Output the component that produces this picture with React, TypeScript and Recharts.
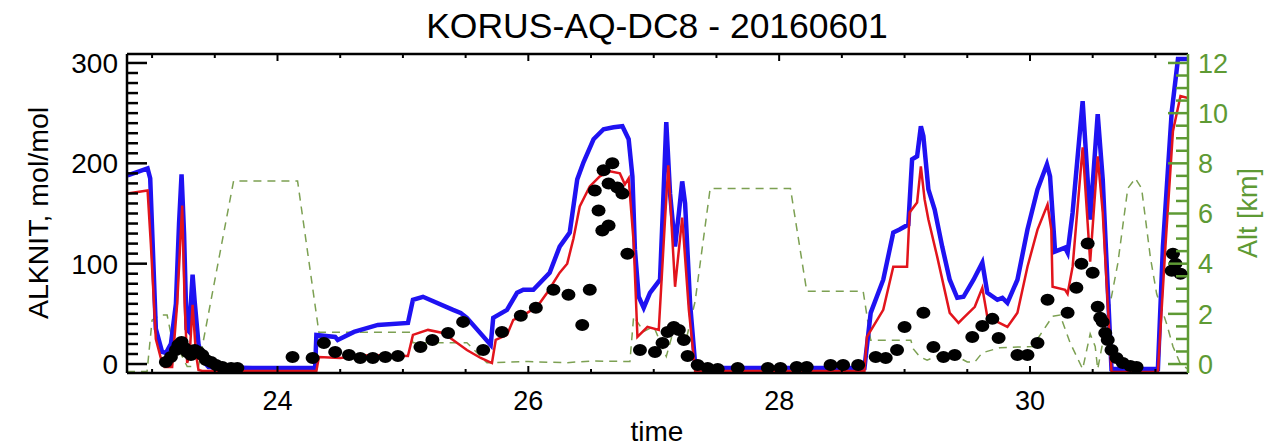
import { ComposedChart, Line, Scatter, XAxis, YAxis } from "recharts"

const FONT = '"Liberation Sans", Arial, Helvetica, sans-serif'
const GREEN = "#5e9a34"

// model ALKNIT, mol/mol (blue)
const modelBlue: [number, number][] = [
  [22.805, 188], [22.964, 195], [22.985, 185], [23.03, 35], [23.08, 12], [23.11, 11], [23.15, 20],
  [23.19, 60], [23.215, 140], [23.235, 189], [23.255, 130], [23.275, 35], [23.29, 33], [23.31, 62],
  [23.323, 89], [23.34, 62], [23.37, 20], [23.4, 4], [23.45, -3], [23.8, -4], [24.3, -4], [24.31, 29],
  [24.46, 27], [24.48, 24], [24.61, 32], [24.8, 39], [25.04, 41], [25.08, 64], [25.16, 67], [25.4, 54],
  [25.46, 51], [25.51, 46], [25.7, 19], [25.72, 46], [25.83, 54], [25.91, 71], [25.96, 74], [26.04, 74],
  [26.17, 91], [26.25, 117], [26.33, 131], [26.39, 184], [26.44, 201], [26.52, 224], [26.6, 234],
  [26.68, 236], [26.75, 237], [26.8, 224], [26.83, 187], [26.85, 114], [26.88, 67], [26.92, 56],
  [26.97, 71], [27.05, 84], [27.075, 160], [27.1, 241], [27.13, 170], [27.17, 117], [27.2, 150],
  [27.227, 182], [27.25, 160], [27.29, 60], [27.33, 0], [27.35, -4], [28.68, -4], [28.73, 51],
  [28.83, 84], [28.91, 131], [28.96, 134], [29.03, 139], [29.06, 204], [29.1, 207], [29.13, 237],
  [29.15, 227], [29.19, 174], [29.24, 154], [29.3, 117], [29.36, 84], [29.42, 66], [29.47, 67],
  [29.55, 84], [29.62, 101], [29.66, 71], [29.74, 64], [29.78, 66], [29.82, 61], [29.9, 84],
  [29.98, 134], [30.06, 174], [30.135, 199], [30.16, 187], [30.2, 112], [30.28, 116], [30.3, 111],
  [30.34, 151], [30.42, 262], [30.48, 144], [30.54, 249], [30.58, 184], [30.65, -5], [31.02, -5],
  [31.06, 117], [31.13, 251], [31.18, 304], [31.26, 304],
]

// model ALKNIT, mol/mol (red)
const modelRed: [number, number][] = [
  [22.805, 170], [22.964, 173], [22.99, 120], [23.03, 25], [23.08, 1], [23.1, -3], [23.16, -3],
  [23.2, 60], [23.24, 158], [23.26, 60], [23.28, 1], [23.3, 10], [23.323, 59], [23.35, 10],
  [23.37, -6], [23.4, -7], [24.31, -7], [24.33, 7], [24.5, 6], [24.74, 9], [25.04, 8], [25.08, 29],
  [25.2, 34], [25.32, 31], [25.4, 24], [25.51, 14], [25.62, 6], [25.71, 1], [25.74, 24], [25.83, 29],
  [25.88, 44], [25.94, 47], [25.99, 51], [26.07, 57], [26.15, 71], [26.25, 91], [26.31, 100],
  [26.36, 125], [26.41, 157], [26.49, 177], [26.57, 187], [26.65, 192], [26.73, 190], [26.77, 179],
  [26.8, 185], [26.84, 121], [26.87, 27], [26.95, 37], [27.04, 34], [27.09, 144], [27.116, 198],
  [27.17, 77], [27.227, 146], [27.28, 54], [27.33, -7], [28.68, -7], [28.7, 27], [28.83, 54],
  [28.91, 97], [29.02, 97], [29.04, 151], [29.1, 161], [29.13, 197], [29.16, 164], [29.19, 144],
  [29.26, 107], [29.36, 51], [29.43, 41], [29.47, 46], [29.56, 57], [29.62, 76], [29.66, 47],
  [29.74, 42], [29.82, 37], [29.9, 51], [29.98, 97], [30.06, 134], [30.14, 159], [30.17, 134],
  [30.18, 77], [30.28, 74], [30.3, 70], [30.34, 97], [30.42, 216], [30.48, 102], [30.54, 207],
  [30.58, 151], [30.65, -8], [31.02, -8], [31.08, 117], [31.14, 232], [31.2, 267], [31.26, 265],
]

// measured ALKNIT (black dots)
const observed: [number, number][] = [
  [23.11, 2], [23.15, 7], [23.19, 14], [23.21, 19], [23.235, 22], [23.26, 16], [23.28, 12], [23.31, 9],
  [23.34, 14], [23.37, 12], [23.4, 9], [23.43, 4], [23.47, 2], [23.51, -1], [23.56, -3], [23.63, -4],
  [23.68, -4], [24.12, 7], [24.28, 6], [24.37, 21], [24.46, 12], [24.57, 9], [24.66, 6], [24.76, 6],
  [24.86, 7], [24.96, 8], [25.14, 17], [25.235, 24], [25.36, 31], [25.48, 42], [25.64, 14], [25.79, 32],
  [25.94, 48], [26.06, 56], [26.2, 74], [26.32, 69], [26.43, 39], [26.49, 74], [26.53, 173],
  [26.56, 153], [26.59, 133], [26.64, 138], [26.6, 193], [26.67, 200], [26.64, 180], [26.71, 176],
  [26.75, 170], [26.79, 110], [26.89, 14], [27.01, 12], [27.07, 21], [27.11, 32], [27.16, 37],
  [27.2, 34], [27.24, 24], [27.27, 8], [27.35, -1], [27.43, -4], [27.51, -5], [27.67, -4], [27.91, -4],
  [28.01, -4], [28.14, -3], [28.22, -3], [28.41, -1], [28.51, -1], [28.63, -1], [28.77, 7], [28.85, 6],
  [28.94, 14], [29.0, 37], [29.15, 51], [29.23, 17], [29.31, 7], [29.4, 9], [29.54, 27], [29.62, 38],
  [29.7, 45], [29.75, 26], [29.9, 9], [29.98, 9], [30.06, 21], [30.14, 64], [30.3, 51], [30.37, 76],
  [30.41, 100], [30.46, 120], [30.5, 91], [30.54, 57], [30.56, 46], [30.58, 42], [30.6, 31],
  [30.62, 24], [30.65, 14], [30.69, 6], [30.74, 1], [30.8, -2], [30.85, -3], [31.13, 93], [31.14, 110],
  [31.16, 100], [31.2, 90],
]

// aircraft altitude, km (green dashed)
const altitude: [number, number][] = [
  [22.8, -0.3], [22.96, -0.3], [23.0, 1.75], [23.06, 1.95], [23.12, 1.95], [23.15, 1.2], [23.24, 0.3],
  [23.28, -0.1], [23.37, -0.1], [23.65, 7.3], [24.16, 7.3], [24.33, 1.27], [25.06, 1.27], [25.08, 0.85],
  [25.51, 0.85], [25.67, 0.05], [26.0, 0.1], [26.3, 0.05], [26.5, 0.12], [26.81, 0.1], [26.84, 1.9],
  [26.92, 1.3], [27.0, 1.5], [27.05, 0.9], [27.1, 0.3], [27.15, 1.2], [27.2, 1.6], [27.26, 1.0],
  [27.33, 2.5], [27.45, 7.0], [28.09, 7.0], [28.22, 2.9], [28.67, 2.9], [28.73, 0.95], [29.05, 0.95],
  [29.07, 0.6], [29.12, 0.3], [29.18, 0.15], [29.27, 0.35], [29.4, 0.35], [29.5, 0.08], [29.56, 0.08],
  [29.62, 0.45], [29.76, 0.65], [30.02, 0.7], [30.18, 1.9], [30.24, 1.95], [30.32, 0.85], [30.42, -0.2],
  [30.48, 1.2], [30.52, 0.7], [30.54, -0.2], [30.7, 4.0], [30.78, 7.0], [30.84, 7.4], [30.89, 7.0],
  [30.96, 4.25], [31.01, 2.8], [31.09, 1.6], [31.14, 0.7], [31.2, 0.0], [31.26, -0.2],
]

const timeLabels = [24, 26, 28, 30]
const alknitLabels = [0, 100, 200, 300]
const altLabels = [0, 2, 4, 6, 8, 10, 12]

const steps = (from: number, to: number, step: number) => {
  const out: number[] = []
  for (let i = 0; from + i * step <= to + 1e-9; i++) out.push(+(from + i * step).toFixed(3))
  return out
}
const timeTicks = steps(23, 31, 0.5)
const alknitTicks = steps(0, 300, 10)
const altTicks = steps(0, 12, 0.5)

const toPoints = (rows: [number, number][]) => rows.map(([t, v]) => ({ t, v }))

const BottomTick = ({ x, y, payload }: any) => {
  const major = timeLabels.includes(payload.value)
  return (
    <g>
      <line x1={x} x2={x} y1={y} y2={y - (major ? 7 : 4)} stroke="#000" strokeWidth={2} />
      {major && (
        <text x={x} y={y + 37} textAnchor="middle" fontSize={27} fontFamily={FONT} fill="#000">
          {payload.value}
        </text>
      )}
    </g>
  )
}

const TopTick = ({ x, y, payload }: any) => {
  const major = timeLabels.includes(payload.value)
  return <line x1={x} x2={x} y1={y} y2={y + (major ? 7 : 4)} stroke="#000" strokeWidth={2} />
}

const LeftTick = ({ x, y, payload }: any) => {
  const major = alknitLabels.includes(payload.value)
  return (
    <g>
      <line x1={x} x2={x + (major ? 20 : 11)} y1={y} y2={y} stroke="#000" strokeWidth={2.5} />
      {major && (
        <text x={x - 9} y={y} dy="0.36em" textAnchor="end" fontSize={28} fontFamily={FONT} fill="#000">
          {payload.value}
        </text>
      )}
    </g>
  )
}

const RightTick = ({ x, y, payload }: any) => {
  const major = altLabels.includes(payload.value)
  return (
    <g>
      <line x1={x} x2={x - (major ? 20 : 12)} y1={y} y2={y} stroke={GREEN} strokeWidth={2.5} />
      {major && (
        <text x={x + 10} y={y} dy="0.36em" textAnchor="start" fontSize={27} fontFamily={FONT} fill={GREEN}>
          {payload.value}
        </text>
      )}
    </g>
  )
}

const Dot = (p: any) => <ellipse cx={p.cx} cy={p.cy} rx={7} ry={6} fill="#000" />

export default function App() {
  return (
    <div style={{ position: "absolute", left: 0, top: 0, width: 1268, height: 446, background: "#fff" }}>
      <ComposedChart width={1268} height={446} margin={{ top: 53, right: 0, bottom: 13, left: 47 }}>
        <XAxis
          xAxisId="bottom"
          dataKey="t"
          type="number"
          domain={[22.8, 31.26]}
          allowDataOverflow
          ticks={timeTicks}
          interval={0}
          height={60}
          tickSize={0}
          tickMargin={0}
          tickLine={false}
          tick={BottomTick}
          axisLine={{ stroke: "#000", strokeWidth: 2.5 }}
        />
        <XAxis
          xAxisId="top"
          orientation="top"
          dataKey="t"
          type="number"
          domain={[22.8, 31.26]}
          allowDataOverflow
          ticks={timeTicks}
          interval={0}
          height={1}
          tickSize={0}
          tickMargin={0}
          tickLine={false}
          tick={TopTick}
          axisLine={{ stroke: "#000", strokeWidth: 2.5 }}
        />
        <YAxis
          yAxisId="left"
          type="number"
          domain={[-8.94, 308.94]}
          allowDataOverflow
          ticks={alknitTicks}
          interval={0}
          width={80}
          tickSize={0}
          tickMargin={0}
          tickLine={false}
          tick={LeftTick}
          axisLine={{ stroke: "#000", strokeWidth: 2.5 }}
        />
        <YAxis
          yAxisId="right"
          orientation="right"
          type="number"
          domain={[-0.3576, 12.3576]}
          allowDataOverflow
          ticks={altTicks}
          interval={0}
          width={80}
          tickSize={0}
          tickMargin={0}
          tickLine={false}
          tick={RightTick}
          axisLine={{ stroke: GREEN, strokeWidth: 2.5 }}
        />
        <Scatter
          xAxisId="bottom"
          yAxisId="left"
          data={toPoints(observed)}
          dataKey="v"
          shape={Dot}
          isAnimationActive={false}
        />
        <Line
          xAxisId="top"
          yAxisId="right"
          data={toPoints(altitude)}
          dataKey="v"
          type="linear"
          stroke="#7ca052"
          strokeWidth={1.5}
          strokeDasharray="8 6"
          dot={false}
          activeDot={false}
          isAnimationActive={false}
        />
        <Line
          xAxisId="bottom"
          yAxisId="left"
          data={toPoints(modelBlue)}
          dataKey="v"
          type="linear"
          stroke="#1f12f2"
          strokeWidth={4.5}
          dot={false}
          activeDot={false}
          isAnimationActive={false}
        />
        <Line
          xAxisId="bottom"
          yAxisId="left"
          data={toPoints(modelRed)}
          dataKey="v"
          type="linear"
          stroke="#e2141c"
          strokeWidth={2.5}
          dot={false}
          activeDot={false}
          isAnimationActive={false}
        />
      </ComposedChart>
      <svg
        width={1268}
        height={446}
        style={{ position: "absolute", left: 0, top: 0, pointerEvents: "none" }}
        fontFamily={FONT}
      >
        <text x={657} y={38} textAnchor="middle" fontSize={35.5} fill="#000">
          KORUS-AQ-DC8 - 20160601
        </text>
        <text x={657} y={441} textAnchor="middle" fontSize={28} fill="#000">
          time
        </text>
        <text x={48} y={213} textAnchor="middle" fontSize={28.5} fill="#000" transform="rotate(-90 48 213)">
          ALKNIT, mol/mol
        </text>
        <text x={1257} y={213} textAnchor="middle" fontSize={27} fill={GREEN} transform="rotate(-90 1257 213)">
          Alt [km]
        </text>
      </svg>
    </div>
  )
}
